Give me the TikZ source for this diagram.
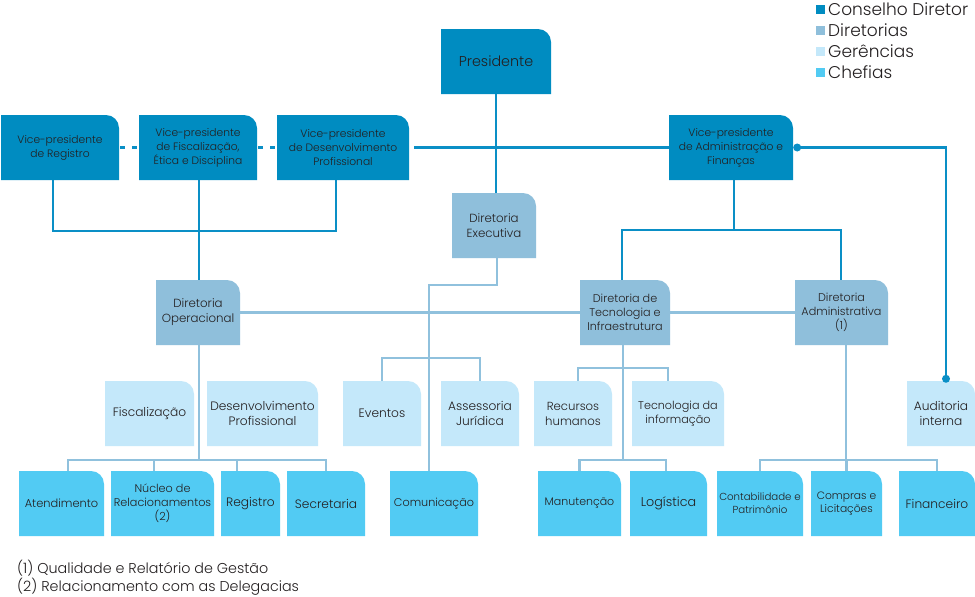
\documentclass[tikz,border=0pt]{standalone}
\usepackage{fontspec}
\setmainfont{Poppins}[UprightFont={* Light}]
\definecolor{cdir}{HTML}{008CC1}
\definecolor{dirs}{HTML}{8FBFDB}
\definecolor{ger}{HTML}{C4E8FA}
\definecolor{chef}{HTML}{52CBF3}
\definecolor{dline}{HTML}{0A8FC6}
\definecolor{lline}{HTML}{90C1DD}
\definecolor{txt}{HTML}{231F20}
\newcommand\obox[9]{%
  \fill[#6] (#2,-#5) -- (#2,-#3) -- ({#4-13},-#3) arc[start angle=90,end angle=0,radius=13pt] -- (#4,-#5) -- cycle;
  \node[btext,font=\fontsize{#7}{#8}\selectfont,minimum width={#4-#2},minimum height={#5-#3}] (#1) at ({(#2+#4)/2},{-(#3+#5)/2}) {#9};}
\begin{document}
\begin{tikzpicture}[x=1pt,y=1pt,
  btext/.style={inner sep=0pt,align=center,text=txt},
  dl/.style={draw=dline,line width=2.2pt},
  ll/.style={draw=lline,line width=2.2pt},
  dashln/.style={dash pattern=on 5pt off 7pt,dash phase=-1pt},
  legtext/.style={anchor=west,inner sep=0pt,text=txt,font=\fontsize{17}{19}\selectfont},
  fntext/.style={anchor=west,inner sep=0pt,text=txt,font=\fontsize{14.3}{16}\selectfont}]
\useasboundingbox (0,0) rectangle (975,-597);
\fill[white] (0,0) rectangle (975,-597);
% Conselho Diretor
\obox{pres}{441}{29}{551}{94}{cdir}{14.3}{17}{Presidente}
\obox{vpreg}{1}{115}{119}{180}{cdir}{10.7}{14}{Vice-presidente\\de Registro}
\obox{vpfisc}{139}{115}{257}{180}{cdir}{10.7}{14}{Vice-presidente\\de Fiscalização,\\Ética e Disciplina}
\obox{vpdes}{277}{115}{409}{180}{cdir}{10.7}{14}{Vice-presidente\\de Desenvolvimento\\Profissional}
\obox{vpadm}{669}{115}{793}{180}{cdir}{10.7}{14}{Vice-presidente\\de Administração e\\Finanças}
% Diretorias
\obox{dexec}{452}{193}{536}{258}{dirs}{11.8}{15}{Diretoria\\Executiva}
\obox{dop}{156}{280}{240}{345}{dirs}{11.8}{15}{Diretoria\\Operacional}
\obox{dtec}{580}{280}{670}{345}{dirs}{11.2}{14}{Diretoria de\\Tecnologia e\\Infraestrutura}
\obox{dadm}{795}{280}{888}{345}{dirs}{11.2}{14}{Diretoria\\Administrativa\\(1)}
% Gerencias
\obox{fisc}{105}{381}{194}{446}{ger}{12.2}{15}{Fiscalização}
\obox{dprof}{207}{381}{318}{446}{ger}{12.2}{15}{Desenvolvimento\\Profissional}
\obox{event}{343}{381}{421}{446}{ger}{12.2}{15}{Eventos}
\obox{assess}{441}{381}{519}{446}{ger}{12.2}{15}{Assessoria\\Jurídica}
\obox{rh}{534}{381}{612}{446}{ger}{11.7}{15}{Recursos\\humanos}
\obox{ti}{632}{381}{724}{446}{ger}{11.2}{14}{Tecnologia da\\informação}
\obox{audit}{907}{381}{975}{446}{ger}{12.2}{15}{Auditoria\\interna}
% Chefias
\obox{atend}{19}{471}{104}{536}{chef}{11.4}{14}{Atendimento}
\obox{nucleo}{111}{471}{214}{536}{chef}{11.2}{14}{Núcleo de\\Relacionamentos\\(2)}
\obox{regis}{221}{471}{280}{536}{chef}{12.2}{15}{Registro}
\obox{secre}{287}{471}{365}{536}{chef}{12.2}{15}{Secretaria}
\obox{comun}{390}{471}{478}{536}{chef}{11.2}{14}{Comunicação}
\obox{manut}{538}{471}{621}{536}{chef}{11}{14}{Manutenção}
\obox{logis}{630}{471}{707}{536}{chef}{12.7}{15}{Logística}
\obox{contab}{717}{471}{803}{536}{chef}{10.2}{13}{Contabilidade e\\Patrimônio}
\obox{compras}{811}{471}{882}{536}{chef}{10.7}{13}{Compras e\\Licitações}
\obox{financ}{899}{471}{975}{536}{chef}{12.2}{15}{Financeiro}
% dark connectors
\draw[dl] (pres.south) -- (pres.south |- dexec.north);
\draw[dl,dashln] (vpreg.east) -- (vpfisc.west);
\draw[dl,dashln] (vpfisc.east) -- (vpdes.west);
\draw[dl] ([xshift=5pt]vpdes.east) -- (vpadm.west);
\draw[dl] ([xshift=-7pt]vpreg.south) -- ++(0,-51) -| ([xshift=-7pt]vpdes.south);
\draw[dl] ([xshift=1pt]vpfisc.south) -- ([xshift=1pt]dop.north);
\draw[dl] ([xshift=3pt]vpadm.south) -- ++(0,-50);
\draw[dl] ([xshift=-3pt]dtec.north) -- ++(0,50) -| ([xshift=-0.5pt]dadm.north);
\draw[dl] ([xshift=4pt]vpadm.east) -| ([xshift=5pt,yshift=2pt]audit.north);
\fill[dline] ([xshift=4pt]vpadm.east) circle[radius=4pt];
\fill[dline] ([xshift=5pt,yshift=2pt]audit.north) circle[radius=4pt];
% light connectors
\draw[ll] (dop.east) -- (dtec.west);
\draw[ll] (dtec.east) -- (dadm.west);
\draw[ll] ([xshift=3pt]dexec.south) -- ++(0,-27) -| ([xshift=-5pt]comun.north);
\draw[ll] (event.north) -- ++(0,23) -| (assess.north);
\draw[ll] ([xshift=1pt]dop.south) -- ++(0,-115);
\draw[ll] ([xshift=6.5pt]atend.north) -- ++(0,11) -| (secre.north);
\draw[ll] ([xshift=-8.5pt]nucleo.north) -- ++(0,11);
\draw[ll] ([xshift=-13.5pt]regis.north) -- ++(0,11);
\draw[ll] ([xshift=-2pt]dtec.south) -- ++(0,-115);
\draw[ll] ([xshift=5pt]rh.north) -- ++(0,13) -| ([xshift=-10pt]ti.north);
\draw[ll] (manut.north) -- ++(0,11) -| ([xshift=-2.5pt]logis.north);
\draw[ll] ([xshift=4.5pt]dadm.south) -- ++(0,-115);
\draw[ll] (contab.north) -- ++(0,11) -| (financ.north);
\draw[ll] (compras.north) -- ++(0,11);
% legend
\fill[cdir] (816,-4.5) rectangle (825,-13.5);
\fill[dirs] (816,-26) rectangle (825,-35);
\fill[ger] (816,-47) rectangle (825,-56);
\fill[chef] (816,-67.5) rectangle (825,-76.5);
\node[legtext] (leg1) at (828,-9) {Conselho Diretor};
\node[legtext] (leg2) at (828,-30.5) {Diretorias};
\node[legtext] (leg3) at (828,-51.5) {Gerências};
\node[legtext] (leg4) at (828,-72) {Chefias};
% footnotes
\node[fntext] (fn1) at (17,-568) {(1) Qualidade e Relatório de Gestão};
\node[fntext] (fn2) at (17,-587) {(2) Relacionamento com as Delegacias};
\end{tikzpicture}
\end{document}
